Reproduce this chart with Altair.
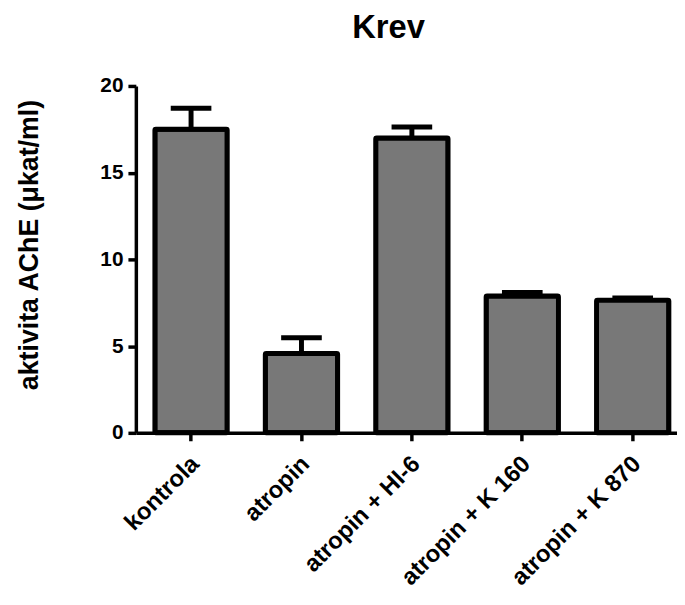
import altair as alt
import pandas as pd

groups = ["kontrola", "atropin", "atropin + HI-6", "atropin + K 160", "atropin + K 870"]
means = [17.5, 4.57, 17.0, 7.89, 7.65]
errs = [1.21, 0.91, 0.63, 0.2, 0.12]

df = pd.DataFrame({"group": groups, "mean": means, "err": errs})
df["upper"] = df["mean"] + df["err"]

FONT = "Liberation Sans"

x = alt.X("group:N", sort=groups, title=None,
          scale=alt.Scale(range=[0, 557], paddingInner=0.345, paddingOuter=0.1725),
          axis=alt.Axis(labelAngle=-45, labelFontSize=24, labelFontWeight="bold",
                        labelFont=FONT, labelColor="black", labelPadding=11,
                        labelOffset=-4,
                        tickSize=8, tickWidth=3.5, tickColor="black",
                        domainColor="black", domainWidth=3.5, labelLimit=400))
y = alt.Y("mean:Q", title="aktivita AChE (μkat/ml)",
          scale=alt.Scale(domain=[0, 20], nice=False),
          axis=alt.Axis(values=[0, 5, 10, 15, 20], grid=False, labelFontSize=21,
                        labelFontWeight="bold", labelFont=FONT, labelColor="black",
                        labelPadding=5, tickSize=8, tickWidth=3.5, tickColor="black",
                        domainColor="black", domainWidth=3.5,
                        titleFontSize=27, titleFontWeight="bold", titleFont=FONT,
                        titleColor="black", titleX=-107, titleY=160, titleAngle=270,
                        titleAlign="center", titleBaseline="middle"))

base = alt.Chart(df)

rules = base.mark_rule(color="black", strokeWidth=5).encode(
    x=x, y=y, y2="upper:Q")
caps = base.mark_tick(color="black", thickness=5, size=41, opacity=1).encode(
    x=x, y=alt.Y("upper:Q"))
bars = base.mark_bar(fill="#787878", stroke="black", strokeWidth=5,
                     cornerRadius=1).encode(x=x, y=y)

chart = alt.layer(rules, caps, bars).properties(
    width=546, height=350,
    title=alt.TitleParams("Krev", fontSize=33, fontWeight="bold", font=FONT,
                          color="black", anchor="middle", dx=-18, offset=30),
    autosize=alt.AutoSizeParams(type="none"),
    padding={"left": 129, "top": 76, "right": 0, "bottom": 163},
).configure_view(stroke=None)

chart.save("out.html", embed_options={"renderer": "svg", "actions": False})
